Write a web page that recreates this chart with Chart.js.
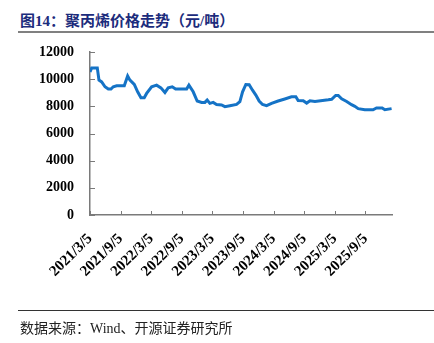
<!DOCTYPE html>
<html>
<head>
<meta charset="utf-8">
<script src="https://cdn.jsdelivr.net/npm/chart.js@4/dist/chart.umd.min.js"></script>
<style>
  html, body { margin: 0; padding: 0; background: #fff; }
  #wrap { position: relative; width: 434px; height: 343px; overflow: hidden; }
  #title {
    position: absolute; left: 20px; top: 9px;
    font-family: "Liberation Serif", "Noto Sans CJK SC", serif;
    font-weight: bold; font-size: 15px; color: #1c2c7c; white-space: nowrap;
  }
  #rule-top { position: absolute; left: 18px; right: 0; top: 31px; height: 2px; background: #808080; }
  #rule-bottom { position: absolute; left: 18px; right: 0; top: 310px; height: 1px; background: #333; }
  #source {
    position: absolute; left: 20px; top: 317px;
    font-family: "Liberation Serif", "Noto Sans CJK SC", serif;
    font-size: 14px; color: #222; white-space: nowrap;
  }
  #chart-box { position: absolute; left: 0; top: 0; width: 434px; height: 343px; }
</style>
</head>
<body>
<div id="wrap">
  <div id="title">图14：聚丙烯价格走势（元/吨）</div>
  <div id="rule-top"></div>
  <div id="chart-box"><canvas id="chart-pp"></canvas></div>
  <div id="rule-bottom"></div>
  <div id="source">数据来源：Wind、开源证券研究所</div>
</div>
<script>
// months elapsed since 2021/3/5
const months = [
  0.0, 0.33, 1.43, 1.76, 2.29, 2.94, 3.58, 4.11, 4.56, 5.23,
  6.72, 7.38, 7.83, 8.68, 9.34, 9.99, 10.63, 11.10, 12.08, 13.06,
  13.90, 14.69, 15.33, 16.12, 16.78, 18.94, 19.39, 20.23, 21.01, 21.88,
  22.52, 22.97, 23.50, 24.15, 24.81, 25.79, 26.44, 27.42, 28.73, 29.38,
  29.91, 30.55, 31.20, 31.86, 32.51, 33.16, 33.82, 34.61, 35.59, 36.88,
  38.19, 39.50, 40.35, 40.80, 41.80, 42.47, 43.12, 44.10, 46.71, 47.37,
  48.16, 48.67, 49.33, 50.31, 51.27, 51.92, 52.57, 53.87, 55.49, 56.16,
  57.27, 57.80, 59.12
];
// 聚丙烯价格（元/吨）
const prices = [
  10530, 10830, 10830, 9930, 9800, 9440, 9270, 9270, 9440, 9510,
  9510, 10240, 9930, 9610, 9070, 8630, 8630, 8950, 9440, 9560,
  9360, 9020, 9360, 9440, 9270, 9270, 9560, 9070, 8390, 8290,
  8290, 8460, 8220, 8290, 8140, 8100, 7980, 8050, 8140, 8340,
  9070, 9610, 9590, 9190, 8830, 8390, 8140, 8050, 8220, 8390,
  8540, 8700, 8700, 8420, 8410, 8240, 8410, 8360, 8480, 8520,
  8800, 8800, 8560, 8360, 8120, 8000, 7830, 7750, 7750, 7880,
  7880, 7750, 7830
];
const tickLabels = [
  '2021/3/5', '2021/9/5', '2022/3/5', '2022/9/5', '2023/3/5',
  '2023/9/5', '2024/3/5', '2024/9/5', '2025/3/5', '2025/9/5'
];

const axisColor = '#7a7a7a';

// short tick marks pointing into the plot
const innerTicks = {
  id: 'innerTicks',
  afterDraw(chart) {
    const { ctx, chartArea, scales } = chart;
    ctx.save();
    ctx.strokeStyle = axisColor;
    ctx.lineWidth = 1;
    scales.x.ticks.forEach((t, i) => {
      const px = Math.round(scales.x.getPixelForTick(i)) + 0.5;
      ctx.beginPath();
      ctx.moveTo(px, chartArea.bottom);
      ctx.lineTo(px, chartArea.bottom - 4);
      ctx.stroke();
    });
    scales.y.ticks.forEach((t, i) => {
      const py = Math.round(scales.y.getPixelForTick(i)) + 0.5;
      ctx.beginPath();
      ctx.moveTo(chartArea.left, py);
      ctx.lineTo(chartArea.left + 5, py);
      ctx.stroke();
    });
    ctx.restore();
  }
};

new Chart(document.getElementById('chart-pp'), {
  type: 'line',
  data: {
    datasets: [{
      data: months.map((m, i) => ({ x: m, y: prices[i] })),
      borderColor: '#1573c6',
      borderWidth: 3,
      pointRadius: 0,
      tension: 0,
      fill: false
    }]
  },
  options: {
    responsive: true,
    maintainAspectRatio: false,
    animation: false,
    layout: { padding: { top: 52, left: 38, right: 42, bottom: 58 } },
    plugins: { legend: { display: false }, tooltip: { enabled: false } },
    scales: {
      x: {
        type: 'linear',
        min: 0,
        max: 59.2,
        afterBuildTicks: s => { s.ticks = s.ticks.filter(t => t.value % 6 === 0); },
        afterFit: s => { s.height = 70; },
        grid: { display: false, drawTicks: false },
        border: { color: axisColor, width: 1.5 },
        ticks: {
          stepSize: 6,
          autoSkip: false,
          maxRotation: 45,
          minRotation: 45,
          padding: 15,
          color: '#000',
          font: { family: 'Liberation Serif', size: 15, weight: 'bold' },
          callback: v => tickLabels[Math.round(v / 6)] || ''
        }
      },
      y: {
        min: 0,
        max: 12000,
        afterFit: s => { s.width = 52; },
        grid: { display: false, drawTicks: false },
        border: { color: axisColor, width: 1.5 },
        ticks: {
          stepSize: 2000, padding: 16, color: '#000',
          font: { family: 'Liberation Serif', size: 14, weight: 'bold' },
          callback: v => String(v)
        }
      }
    }
  },
  plugins: [innerTicks]
});
</script>
</body>
</html>
